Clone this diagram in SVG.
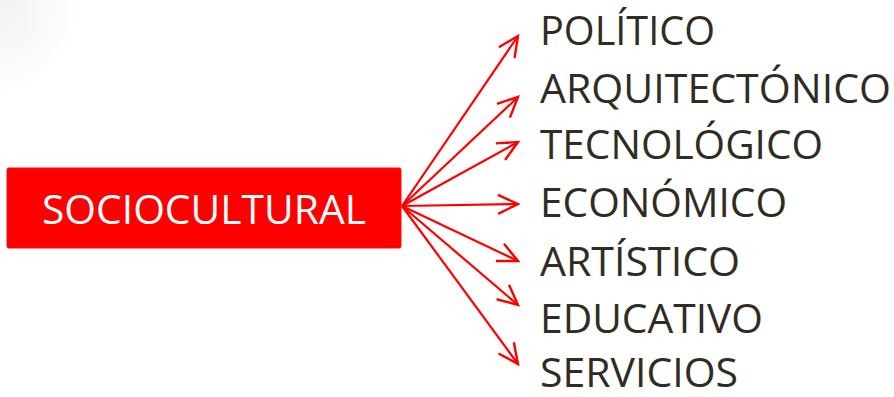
<svg xmlns="http://www.w3.org/2000/svg" width="894" height="397" viewBox="0 0 894 397">
<style>
.lbl{font-family:"Open Sans","Noto Sans","Liberation Sans",sans-serif;font-size:41px;fill:#302C23}
.con{stroke:#FF0000;stroke-width:2.2;fill:none;marker-end:url(#ah)}
.box{fill:#FF0000;stroke:#F21010;stroke-width:1}
.btxt{font-family:"Open Sans","Noto Sans","Liberation Sans",sans-serif;font-size:41px;fill:#FFFFFF}
</style>
<defs>
<marker id="ah" markerUnits="userSpaceOnUse" markerWidth="26" markerHeight="24" refX="22" refY="11" orient="auto" viewBox="0 0 26 24">
<path d="M2,1.5 L22,11 L2,20.5" fill="none" stroke="#FF0000" stroke-width="2.4"/>
</marker>
<radialGradient id="bg" cx="0" cy="0" r="1" gradientUnits="objectBoundingBox">
<stop offset="0" stop-color="#F2F2F2"/>
<stop offset="0.6" stop-color="#F9F9F9"/>
<stop offset="1" stop-color="#FFFFFF"/>
</radialGradient>
</defs>
<rect width="894" height="397" fill="#FFFFFF"/>
<rect x="0" y="0" width="80" height="95" fill="url(#bg)"/>
<g id="connectors">
<line class="con" x1="402" y1="206" x2="518" y2="36"/>
<line class="con" x1="402" y1="206" x2="518" y2="97"/>
<line class="con" x1="402" y1="206" x2="518" y2="142"/>
<line class="con" x1="402" y1="206" x2="518" y2="204"/>
<line class="con" x1="402" y1="206" x2="518" y2="261"/>
<line class="con" x1="402" y1="206" x2="518" y2="305"/>
<line class="con" x1="402" y1="206" x2="518" y2="364"/>
</g>
<g id="sociocultural">
<rect class="box" x="7" y="168" width="394" height="80" rx="2"/>
<text class="btxt" x="42" y="224" textLength="324" lengthAdjust="spacingAndGlyphs">SOCIOCULTURAL</text>
</g>
<g id="politico"><text class="lbl" x="540" y="45" textLength="175" lengthAdjust="spacingAndGlyphs">POLÍTICO</text></g>
<g id="arquitectonico"><text class="lbl" x="540" y="103" textLength="351" lengthAdjust="spacingAndGlyphs">ARQUITECTÓNICO</text></g>
<g id="tecnologico"><text class="lbl" x="540" y="159" textLength="283" lengthAdjust="spacingAndGlyphs">TECNOLÓGICO</text></g>
<g id="economico"><text class="lbl" x="540" y="217" textLength="247" lengthAdjust="spacingAndGlyphs">ECONÓMICO</text></g>
<g id="artistico"><text class="lbl" x="540" y="276" textLength="200" lengthAdjust="spacingAndGlyphs">ARTÍSTICO</text></g>
<g id="educativo"><text class="lbl" x="540" y="333" textLength="223" lengthAdjust="spacingAndGlyphs">EDUCATIVO</text></g>
<g id="servicios"><text class="lbl" x="540" y="387" textLength="198" lengthAdjust="spacingAndGlyphs">SERVICIOS</text></g>
</svg>
